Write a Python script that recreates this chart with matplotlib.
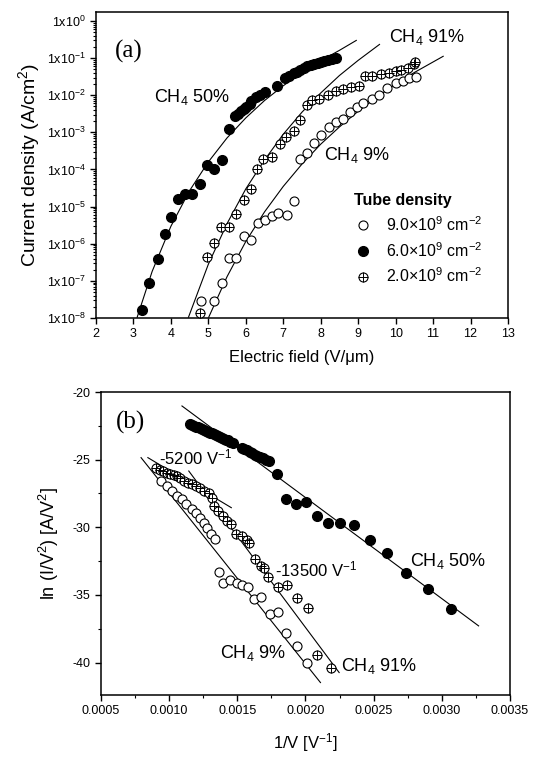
import numpy as np
import matplotlib
matplotlib.use("Agg")
import matplotlib.pyplot as plt
from matplotlib.ticker import FixedLocator, LogLocator, MultipleLocator, NullFormatter

plt.rcParams['font.family'] = ['Liberation Sans', 'DejaVu Sans']
plt.rcParams['mathtext.fontset'] = 'custom'
plt.rcParams['mathtext.rm'] = 'Liberation Sans'
plt.rcParams['mathtext.it'] = 'Liberation Sans:italic'
plt.rcParams['mathtext.default'] = 'regular'
plt.rcParams['axes.unicode_minus'] = False

# ---- panel (a): J-E curves ----
# CH4 50% (6.0e9 cm^-2, filled)
e_50 = [3.24, 3.42, 3.65, 3.83, 4.01, 4.20, 4.38, 4.56, 4.79, 4.97, 5.15, 5.36, 5.56, 5.72,
        5.80, 5.87, 5.95, 6.01, 6.10, 6.15, 6.28, 6.38, 6.51, 6.83, 7.05, 7.15, 7.28, 7.37,
        7.46, 7.55, 7.64, 7.73, 7.83, 7.92, 8.01, 8.10, 8.19, 8.30, 8.42]
j_50 = [1.6e-8, 8.7e-8, 4.0e-7, 1.8e-6, 5.2e-6, 1.6e-5, 2.2e-5, 2.2e-5, 4.0e-5, 1.35e-4,
        1.0e-4, 1.8e-4, 1.2e-3, 2.75e-3, 3.2e-3, 3.7e-3, 4.2e-3, 4.9e-3, 5.8e-3, 6.9e-3,
        9.1e-3, 1.0e-2, 1.26e-2, 1.8e-2, 2.9e-2, 3.3e-2, 3.9e-2, 4.3e-2, 4.8e-2, 5.4e-2,
        6.0e-2, 6.4e-2, 6.9e-2, 7.4e-2, 7.8e-2, 8.3e-2, 9.1e-2, 9.5e-2, 1.0e-1]

# CH4 9% (9.0e9 cm^-2, open)
e_9 = [4.81, 5.15, 5.36, 5.54, 5.74, 5.94, 6.15, 6.33, 6.51, 6.69, 6.87, 7.10, 7.28, 7.46,
       7.64, 7.83, 8.01, 8.21, 8.42, 8.60, 8.78, 8.96, 9.14, 9.37, 9.55, 9.78, 10.0, 10.19,
       10.37, 10.55]
j_9 = [2.95e-8, 2.95e-8, 8.7e-8, 4.1e-7, 4.1e-7, 1.6e-6, 1.3e-6, 3.6e-6, 4.3e-6, 5.5e-6,
       6.8e-6, 5.8e-6, 1.4e-5, 1.9e-4, 2.75e-4, 5.2e-4, 8.3e-4, 1.4e-3, 1.9e-3, 2.35e-3,
       3.5e-3, 4.9e-3, 6.0e-3, 8.1e-3, 1.0e-2, 1.55e-2, 2.1e-2, 2.35e-2, 2.9e-2, 3.1e-2]

# CH4 91% (2.0e9 cm^-2, crossed)
e_91 = [4.78, 4.97, 5.15, 5.33, 5.54, 5.74, 5.94, 6.15, 6.30, 6.46, 6.69, 6.90, 7.08, 7.28,
        7.46, 7.64, 7.78, 7.96, 8.19, 8.42, 8.60, 8.82, 9.01, 9.19, 9.37, 9.60, 9.82, 10.0,
        10.14, 10.32, 10.50, 10.53]
j_91 = [1.4e-8, 4.5e-7, 1.07e-6, 2.75e-6, 2.75e-6, 6.2e-6, 1.55e-5, 3.0e-5, 1.0e-4, 1.9e-4,
        2.2e-4, 4.9e-4, 7.4e-4, 1.1e-3, 2.1e-3, 5.4e-3, 7.4e-3, 8.1e-3, 1.0e-2, 1.3e-2,
        1.5e-2, 1.7e-2, 1.8e-2, 3.2e-2, 3.4e-2, 3.7e-2, 3.9e-2, 4.4e-2, 4.8e-2, 5.4e-2,
        6.9e-2, 8.1e-2]

# fitted curves
fit50_e = [3.1, 3.5, 4.0, 4.5, 5.0, 5.5, 6.0, 6.5, 7.0, 7.5, 8.0, 8.5, 8.95]
fit50_j = [1.05e-8, 1.8e-7, 2.95e-6, 2.7e-5, 1.6e-4, 7.1e-4, 2.45e-3, 7.2e-3, 1.8e-2,
           4.1e-2, 8.5e-2, 0.162, 0.3]
fit91_e = [4.47, 5.0, 5.5, 6.0, 6.5, 7.0, 7.5, 8.0, 8.5, 9.0, 9.57]
fit91_j = [1.05e-8, 2.8e-7, 3.5e-6, 3.0e-5, 1.8e-4, 8.9e-4, 3.5e-3, 1.15e-2, 3.4e-2,
           8.7e-2, 0.234]
fit9_e = [5.01, 5.5, 6.0, 6.5, 7.0, 7.5, 8.0, 8.5, 9.0, 9.5, 10.0, 10.5, 11.27]
fit9_j = [1.05e-8, 1.3e-7, 1.15e-6, 7.2e-6, 3.5e-5, 1.4e-4, 4.8e-4, 1.4e-3, 3.7e-3,
          8.9e-3, 2.0e-2, 4.1e-2, 0.112]

# ---- panel (b): FN plot ----
v_50 = [0.00115, 0.001165, 0.00118, 0.001195, 0.00121, 0.001225, 0.00124, 0.001255,
        0.00127, 0.001285, 0.0013, 0.001315, 0.00133, 0.001345, 0.00136, 0.001375,
        0.00139, 0.001405, 0.00142, 0.001435, 0.00145, 0.001468, 0.001531, 0.00155,
        0.001573, 0.00159, 0.00161, 0.00163, 0.001648, 0.001665, 0.001685, 0.00171,
        0.001735, 0.001793, 0.00186, 0.00193, 0.002005, 0.002085, 0.002165, 0.002254,
        0.002359, 0.002472, 0.002596, 0.002734, 0.002896, 0.003066]
ln_50 = [-22.34, -22.42, -22.49, -22.55, -22.62, -22.68, -22.74, -22.80, -22.86, -22.93,
         -23.00, -23.05, -23.11, -23.18, -23.25, -23.31, -23.38, -23.45, -23.52, -23.58,
         -23.66, -23.80, -24.11, -24.20, -24.29, -24.40, -24.53, -24.62, -24.73, -24.80,
         -24.90, -25.00, -25.10, -26.08, -27.88, -28.30, -28.13, -29.16, -29.70, -29.70,
         -29.85, -30.96, -31.87, -33.35, -34.58, -36.06]

v_9 = [0.000937, 0.000982, 0.001019, 0.001057, 0.001094, 0.001124, 0.001164, 0.001194,
       0.001226, 0.001256, 0.001281, 0.001306, 0.001339, 0.001366, 0.001398, 0.001448,
       0.001498, 0.001536, 0.001581, 0.001623, 0.001673, 0.001743, 0.001798, 0.00186,
       0.001935, 0.00201]
ln_9 = [-26.58, -26.95, -27.32, -27.68, -27.93, -28.30, -28.62, -28.92, -29.29, -29.66,
        -30.02, -30.52, -30.84, -33.28, -34.09, -33.92, -34.09, -34.26, -34.41, -35.32,
        -35.15, -36.43, -36.26, -37.78, -38.77, -40.0]

v_91 = [0.000907, 0.000932, 0.000957, 0.000982, 0.001007, 0.001032, 0.001057, 0.001081,
        0.001106, 0.001139, 0.001169, 0.001194, 0.001224, 0.001256, 0.001289, 0.001314,
        0.001331, 0.001356, 0.001393, 0.001423, 0.001456, 0.001493, 0.001531, 0.001573,
        0.001586, 0.00163, 0.001673, 0.001693, 0.001728, 0.001798, 0.001865, 0.00194,
        0.002022, 0.002085, 0.002185]
ln_91 = [-25.59, -25.76, -25.84, -25.96, -26.08, -26.16, -26.21, -26.33, -26.58, -26.70,
         -26.82, -26.95, -27.07, -27.32, -27.44, -27.81, -28.42, -28.79, -29.16, -29.53,
         -29.78, -30.52, -30.64, -30.94, -31.13, -32.36, -32.86, -32.98, -33.67, -34.41,
         -34.26, -35.20, -35.99, -39.43, -40.37]

# straight fits (end points)
lfit50_v, lfit50_y = [0.001094, 0.00327], [-21.03, -37.29]
lfit9_v, lfit9_y = [0.000794, 0.00211], [-24.85, -41.48]
lfit91a_v, lfit91a_y = [0.000844, 0.001456], [-24.85, -28.55]
lfit91b_v, lfit91b_y = [0.001144, 0.002247], [-25.84, -40.74]

yticks_a = [1e-8, 1e-7, 1e-6, 1e-5, 1e-4, 1e-3, 1e-2, 1e-1, 1e0]
ytick_labels_a = ['1x10$^{%d}$' % int(np.log10(t)) for t in yticks_a]

fig = plt.figure(figsize=(5.38, 7.58), dpi=100)
ax1 = fig.add_axes([0.1784, 0.5805, 0.7658, 0.4037])
ax2 = fig.add_axes([0.1877, 0.0831, 0.7602, 0.3997])

open_kw = dict(ls='none', marker='o', ms=6.5, mfc='white', mec='black', mew=0.8, zorder=3)
plus_kw = dict(ls='none', marker='+', ms=6.5, mec='black', mew=0.7, zorder=4)
solid_kw = dict(ls='none', marker='o', ms=7, mfc='black', mec='black', zorder=3)
line_kw = dict(color='black', lw=0.8, zorder=2)

# panel (a)
ax1.plot(fit50_e, fit50_j, **line_kw)
ax1.plot(fit91_e, fit91_j, **line_kw)
ax1.plot(fit9_e, fit9_j, **line_kw)
h_open, = ax1.plot(e_9, j_9, **open_kw)
h_solid, = ax1.plot(e_50, j_50, **solid_kw)
h_cr1, = ax1.plot(e_91, j_91, **open_kw)
h_cr2, = ax1.plot(e_91, j_91, **plus_kw)

ax1.set_yscale('log')
ax1.set_xlim(2, 13)
ax1.set_ylim(1e-8, 1.75)
ax1.xaxis.set_major_locator(MultipleLocator(1))
ax1.yaxis.set_major_locator(FixedLocator(yticks_a))
ax1.set_yticklabels(ytick_labels_a)
ax1.yaxis.set_minor_locator(LogLocator(base=10, subs=np.arange(2, 10)))
ax1.yaxis.set_minor_formatter(NullFormatter())
ax1.set_xlabel('Electric field (V/\u03bcm)', fontsize=12, labelpad=7)
ax1.set_ylabel('Current density (A/cm$^2$)', fontsize=14, labelpad=3)

ax1.text(2.5, 10 ** -0.82, '(a)', family='Liberation Serif', fontsize=18, va='center')
ax1.text(3.56, 10 ** -2.05, 'CH$_4$ 50%', fontsize=13, va='center')
ax1.text(9.82, 10 ** -0.42, 'CH$_4$ 91%', fontsize=13, va='center')
ax1.text(8.10, 10 ** -3.62, 'CH$_4$ 9%', fontsize=13, va='center')

leg = ax1.legend([h_open, h_solid, (h_cr1, h_cr2)],
                 ['9.0\u00d710$^9$ cm$^{-2}$', '6.0\u00d710$^9$ cm$^{-2}$',
                  '2.0\u00d710$^9$ cm$^{-2}$'],
                 title='Tube density', loc='upper left', bbox_to_anchor=(0.61, 0.43),
                 frameon=False, fontsize=11.5, handlelength=1.2, handletextpad=0.8,
                 labelspacing=0.45, borderaxespad=0,
                 title_fontproperties={'weight': 'bold', 'size': 11.5})
leg._legend_box.align = 'left'

# panel (b)
ax2.plot(lfit50_v, lfit50_y, **line_kw)
ax2.plot(lfit9_v, lfit9_y, **line_kw)
ax2.plot(lfit91a_v, lfit91a_y, **line_kw)
ax2.plot(lfit91b_v, lfit91b_y, **line_kw)
ax2.plot(v_9, ln_9, **open_kw)
ax2.plot(v_91, ln_91, **open_kw)
ax2.plot(v_91, ln_91, **plus_kw)
ax2.plot(v_50, ln_50, **solid_kw)

ax2.set_xlim(0.0005, 0.0035)
ax2.set_ylim(-42.4, -20)
ax2.xaxis.set_major_locator(MultipleLocator(0.0005))
ax2.xaxis.set_minor_locator(MultipleLocator(0.00025))
ax2.yaxis.set_major_locator(MultipleLocator(5))
ax2.yaxis.set_minor_locator(MultipleLocator(2.5))
ax2.xaxis.set_major_formatter(plt.FuncFormatter(lambda v, p: '%.4f' % v))
ax2.set_xlabel('1/V [V$^{-1}$]', fontsize=12, labelpad=10)
ax2.set_ylabel('ln (I/V$^2$) [A/V$^2$]', fontsize=13, labelpad=8)

ax2.text(0.000612, -22.27, '(b)', family='Liberation Serif', fontsize=18, va='center')
ax2.text(0.000924, -24.85, '-5200 V$^{-1}$', fontsize=12, va='center')
ax2.text(0.00178, -33.1, '-13500 V$^{-1}$', fontsize=12, va='center')
ax2.text(0.00277, -32.5, 'CH$_4$ 50%', fontsize=13, va='center')
ax2.text(0.001373, -39.26, 'CH$_4$ 9%', fontsize=13, va='center')
ax2.text(0.00226, -40.25, 'CH$_4$ 91%', fontsize=13, va='center')

for ax in (ax1, ax2):
    for s in ax.spines.values():
        s.set_linewidth(1.1)
    ax.tick_params(which='major', direction='out', length=4, width=1, labelsize=9)
    ax.tick_params(which='minor', direction='out', length=2, width=0.8)

fig.savefig('out.png', dpi=100)
